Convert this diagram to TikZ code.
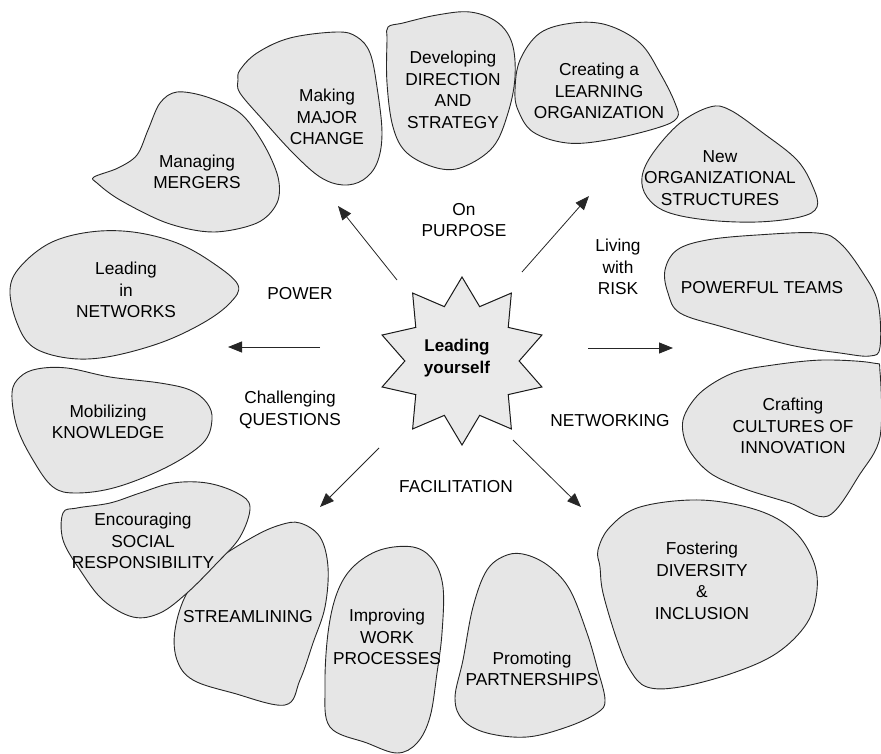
\documentclass[tikz,border=0pt]{standalone}
\usepackage{fontspec}
\setmainfont{Liberation Sans}
\usetikzlibrary{shapes.geometric,arrows.meta}
\definecolor{blobfill}{RGB}{230,230,230}
\definecolor{starfill}{RGB}{234,234,234}
\begin{document}
\begin{tikzpicture}[x=1pt,y=-1pt,
  blob/.style={draw=black!85,line width=0.9pt,fill=blobfill},
  lbl/.style={align=center,font=\fontsize{17.3}{21.5}\selectfont,inner sep=0pt},
  arr/.style={-{Triangle[length=14pt,width=11pt]},line width=0.8pt,draw=black!85}]
\useasboundingbox (0,0) rectangle (881,754);

% Managing MERGERS
\draw[blob] plot[smooth cycle,tension=0.55] coordinates {(94,177) (118,168) (137,155) (148,130) (160,103) (177,92) (207,97) (240,113) (263,143) (278,177) (277,203) (257,223) (213,232) (167,223) (120,200) (97,183)};
\node[lbl] (merg) at (197,172) {Managing\\MERGERS};

% Making MAJOR CHANGE
\draw[blob] plot[smooth cycle,tension=0.6] coordinates {(240,70) (257,53) (290,38) (337,32) (357,37) (370,53) (377,87) (382,133) (377,163) (363,180) (343,185) (320,177) (293,153) (263,120) (240,93) (238,80)};
\node[lbl] (major) at (327,117) {Making\\MAJOR\\CHANGE};

% Developing DIRECTION AND STRATEGY
\draw[blob] plot[smooth cycle,tension=0.6] coordinates {(388,27) (403,23) (437,15) (470,12) (497,22) (512,43) (515,77) (508,113) (493,147) (463,167) (437,168) (407,153) (393,127) (387,83) (387,40)};
\node[lbl] (dir) at (453,90) {Developing\\DIRECTION\\AND\\STRATEGY};

% Creating a LEARNING ORGANIZATION
\draw[blob] plot[smooth cycle,tension=0.6] coordinates {(515,90) (520,60) (540,33) (573,23) (607,25) (640,43) (660,73) (675,103) (677,118) (657,128) (607,140) (567,143) (533,132) (518,110)};
\node[lbl] (learn) at (599,91) {Creating a\\LEARNING\\ORGANIZATION};

% New ORGANIZATIONAL STRUCTURES
\draw[blob] plot[smooth cycle,tension=0.6] coordinates {(642,177) (653,153) (680,123) (710,107) (730,110) (763,133) (797,160) (813,187) (817,207) (800,217) (757,222) (707,220) (667,212) (647,197)};
\node[lbl] (struct) at (720,178) {New\\ORGANIZATIONAL\\STRUCTURES};

% POWERFUL TEAMS
\draw[blob] plot[smooth cycle,tension=0.6] coordinates {(665,270) (677,250) (707,240) (757,235) (817,233) (840,243) (863,273) (878,303) (880,347) (870,356) (840,353) (790,345) (723,327) (680,313) (668,293)};
\node[lbl] (teams) at (762,288) {POWERFUL TEAMS};

% Crafting CULTURES OF INNOVATION
\draw[blob] plot[smooth cycle,tension=0.55] coordinates {(683,420) (700,393) (733,373) (773,365) (823,360) (873,363) (880,372) (880,437) (860,474) (828,516) (790,503) (745,489) (710,473) (688,448)};
\node[lbl] (innov) at (793,426) {Crafting\\CULTURES OF\\INNOVATION};

% Fostering DIVERSITY & INCLUSION
\draw[blob] plot[smooth cycle,tension=0.6] coordinates {(598,550) (610,527) (640,507) (700,500) (757,510) (793,530) (813,560) (817,590) (807,623) (777,653) (733,673) (680,687) (647,687) (630,670) (617,640) (603,593) (600,567)};
\node[lbl] (divers) at (702,581) {Fostering\\DIVERSITY\\\&\\INCLUSION};

% Promoting PARTNERSHIPS
\draw[blob] plot[smooth cycle,tension=0.6] coordinates {(507,555) (527,555) (550,567) (570,590) (587,633) (597,667) (605,700) (597,713) (567,727) (527,737) (487,733) (463,720) (455,698) (463,660) (473,607) (487,570)};
\node[lbl] (partn) at (532,669) {Promoting\\PARTNERSHIPS};

% Improving WORK PROCESSES
\draw[blob] plot[smooth cycle,tension=0.6] coordinates {(413,547) (433,560) (443,587) (442,633) (437,673) (430,717) (417,743) (397,753) (367,743) (330,727) (325,687) (328,633) (337,593) (353,567) (380,550)};
\node[lbl] (work) at (387,637) {Improving\\WORK\\PROCESSES};

% STREAMLINING
\draw[blob] plot[smooth cycle,tension=0.6] coordinates {(300,523) (320,537) (328,567) (325,607) (313,643) (300,680) (285,705) (233,693) (193,680) (177,660) (175,630) (187,593) (213,563) (253,537) (280,525)};
\node[lbl] (stream) at (248,617) {STREAMLINING};

% Encouraging SOCIAL RESPONSIBILITY
\draw[blob] plot[smooth cycle,tension=0.6] coordinates {(63,513) (77,508) (110,503) (140,493) (173,483) (207,483) (237,493) (250,507) (240,537) (217,563) (187,593) (160,613) (133,617) (103,600) (80,570) (63,540)};
\node[lbl] (social) at (143,541) {Encouraging\\SOCIAL\\RESPONSIBILITY};

% Mobilizing KNOWLEDGE
\draw[blob] plot[smooth cycle,tension=0.6] coordinates {(20,377) (37,369) (67,368) (110,377) (160,383) (190,390) (207,403) (212,420) (203,443) (167,467) (117,487) (77,493) (53,487) (33,460) (17,427) (12,393)};
\node[lbl] (know) at (108,422) {Mobilizing\\KNOWLEDGE};

% Leading in NETWORKS
\draw[blob] plot[smooth cycle,tension=0.6] coordinates {(10,290) (20,267) (50,243) (90,232) (133,232) (177,243) (213,263) (238,285) (230,303) (203,323) (160,343) (107,357) (67,358) (33,347) (17,323)};
\node[lbl] (netw) at (126,290) {Leading\\in\\NETWORKS};

% central star
\node[star,star points=10,star point ratio=1.47,minimum size=168pt,inner sep=0pt,
      draw=black!90,line width=1pt,fill=starfill] (star) at (462,361) {};
\node[lbl,font=\bfseries\fontsize{17}{21.5}\selectfont] (lead) at (457,358) {Leading\\yourself};

% labels
\node[lbl] (purpose) at (464,220) {On\\PURPOSE};
\node[lbl] (risk) at (618,267) {Living\\with\\RISK};
\node[lbl] (power) at (300,294) {POWER};
\node[lbl] (quest) at (290,410) {Challenging\\QUESTIONS};
\node[lbl] (facil) at (456,487) {FACILITATION};
\node[lbl] (netwk) at (610,421) {NETWORKING};

% arrows
\coordinate (a1s) at (397,280); \coordinate (a1e) at (338,206);
\coordinate (a2s) at (522,272); \coordinate (a2e) at (589,196);
\coordinate (a3s) at (320,347); \coordinate (a3e) at (228,347);
\coordinate (a4s) at (588,348); \coordinate (a4e) at (673,348);
\coordinate (a5s) at (379,448); \coordinate (a5e) at (320,507);
\coordinate (a6s) at (513,440); \coordinate (a6e) at (581,507);
\draw[arr] (a1s) -- (a1e);
\draw[arr] (a2s) -- (a2e);
\draw[arr] (a3s) -- (a3e);
\draw[arr] (a4s) -- (a4e);
\draw[arr] (a5s) -- (a5e);
\draw[arr] (a6s) -- (a6e);
\end{tikzpicture}
\end{document}
